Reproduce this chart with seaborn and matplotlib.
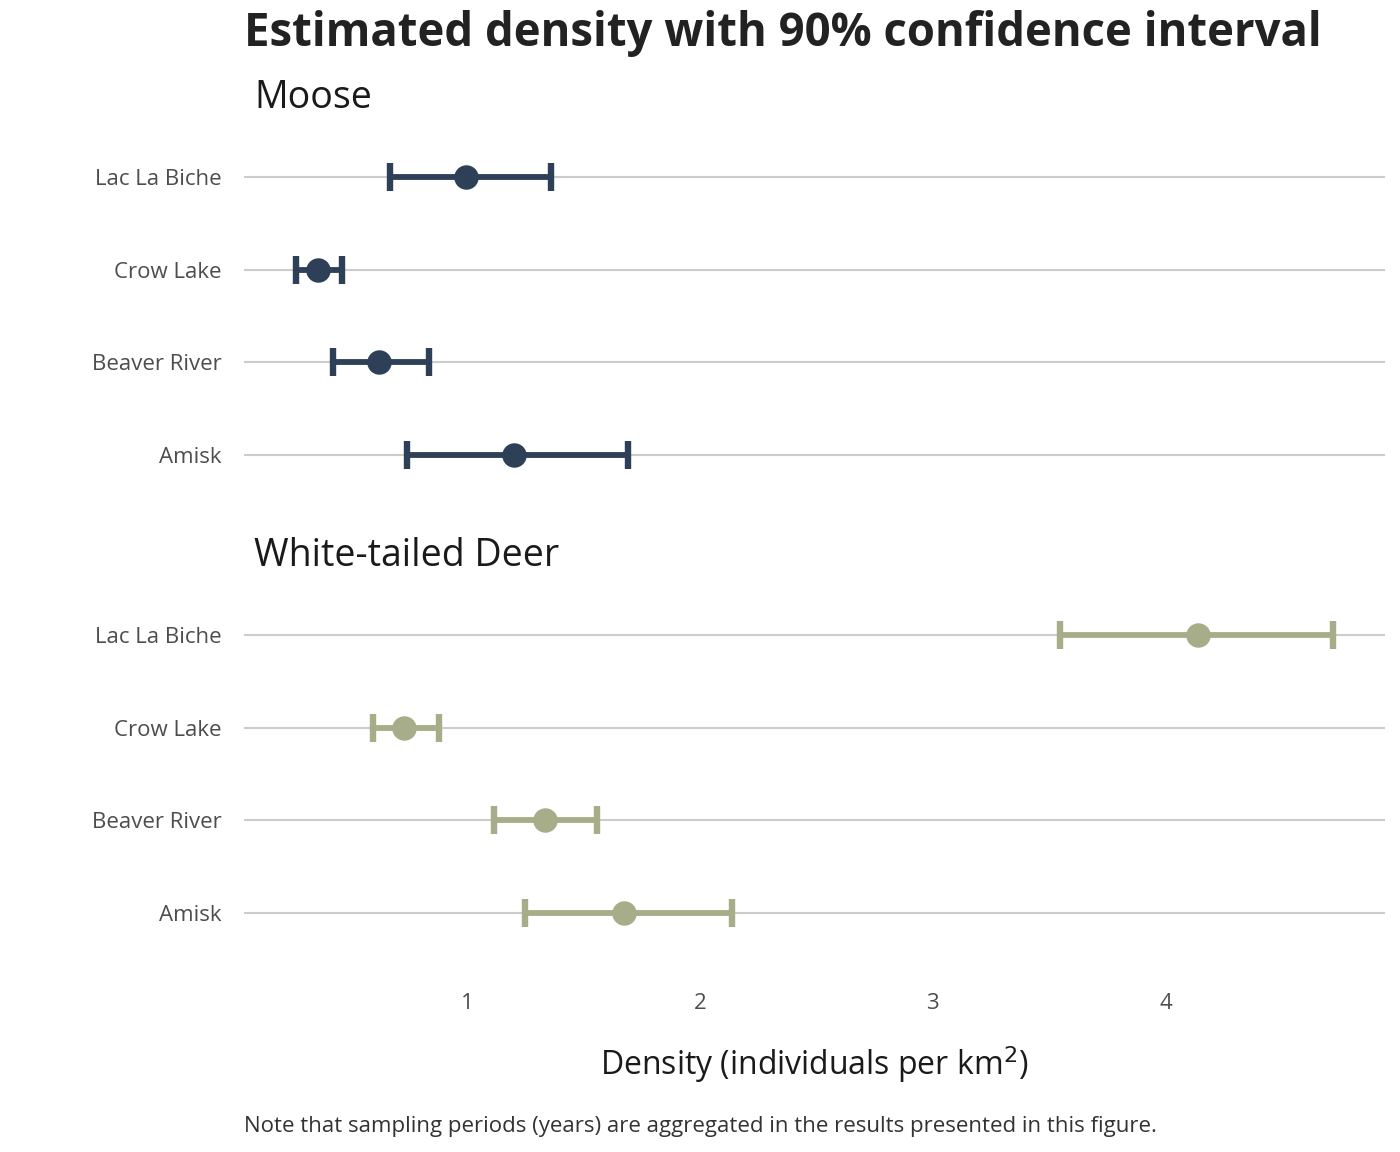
import matplotlib
matplotlib.use("Agg")
import matplotlib.pyplot as plt
import pandas as pd
import seaborn as sns

# data (density, individuals per km^2)
sites = ["Lac La Biche", "Crow Lake", "Beaver River", "Amisk"]
species = ["Moose", "White-tailed Deer"]

moose_est = [0.995, 0.36, 0.62, 1.20]
moose_lo = [0.668, 0.264, 0.423, 0.741]
moose_hi = [1.36, 0.462, 0.836, 1.69]

deer_est = [4.14, 0.728, 1.334, 1.674]
deer_lo = [3.547, 0.595, 1.115, 1.249]
deer_hi = [4.72, 0.879, 1.557, 2.138]

x_ticks = [1, 2, 3, 4]
colors = {"Moose": "#2E4057", "White-tailed Deer": "#A7AD88"}


def build_df():
    frames = []
    for sp, est, lo, hi in [("Moose", moose_est, moose_lo, moose_hi),
                            ("White-tailed Deer", deer_est, deer_lo, deer_hi)]:
        frames.append(pd.DataFrame({"species": sp, "site": sites,
                                    "est": est, "lo": lo, "hi": hi}))
    return pd.concat(frames, ignore_index=True)


def main():
    df = build_df()
    sns.set_theme(style="white")
    plt.rcParams["font.family"] = ["Open Sans", "DejaVu Sans"]

    fig = plt.figure(figsize=(14, 11.52), dpi=100)
    left, width = 0.1743, 0.8150
    ax1 = fig.add_axes([left, 0.5564, width, 0.3386])
    ax2 = fig.add_axes([left, 0.1589, width, 0.3385], sharex=ax1)

    lo_all, hi_all = df["lo"].min(), df["hi"].max()
    pad = 0.05 * (hi_all - lo_all)

    for ax, sp in zip([ax1, ax2], species):
        sub = df[df["species"] == sp]
        c = colors[sp]
        ypos = list(range(len(sites)))
        for y in ypos:
            ax.axhline(y, color="#CCCCCC", lw=1.5, zorder=0)
        ax.errorbar(sub["est"], ypos,
                    xerr=[sub["est"] - sub["lo"], sub["hi"] - sub["est"]],
                    fmt="none", ecolor=c, elinewidth=4.2, capsize=10,
                    capthick=4.6, zorder=2)
        sns.scatterplot(x=sub["est"].values, y=ypos, color=c, s=310,
                        linewidth=0, ax=ax, zorder=3)
        ax.set_yticks(ypos)
        ax.set_yticklabels(sites, fontsize=16, color="#4D4D4D")
        ax.set_ylim(len(sites) - 1 + 0.6, -0.6)
        ax.set_xlim(lo_all - pad, hi_all + pad)
        ax.tick_params(axis="y", length=0, pad=16)
        ax.tick_params(axis="x", length=0)
        for s in ax.spines.values():
            s.set_visible(False)
        ax.set_xlabel("")
        ax.set_ylabel("")
        ax.text(0.009, 1.06, sp, transform=ax.transAxes, fontsize=27,
                color="#1A1A1A", ha="left", va="center")

    ax1.tick_params(axis="x", labelbottom=False)
    ax2.set_xticks(x_ticks)
    ax2.set_xticklabels([str(t) for t in x_ticks], fontsize=16, color="#4D4D4D")
    ax2.tick_params(axis="x", pad=17)
    ax2.set_xlabel("Density (individuals per km$^2$)", fontsize=23,
                   color="#1A1A1A", labelpad=22)

    fig.text(left, 0.971, "Estimated density with 90% confidence interval",
             fontsize=32.8, fontweight="bold", color="#222222", ha="left", va="center")
    fig.text(left, 0.0225,
             "Note that sampling periods (years) are aggregated in the results presented in this figure.",
             fontsize=16, color="#333333", ha="left", va="center")

    fig.savefig("out.png", dpi=100)


if __name__ == "__main__":
    main()
